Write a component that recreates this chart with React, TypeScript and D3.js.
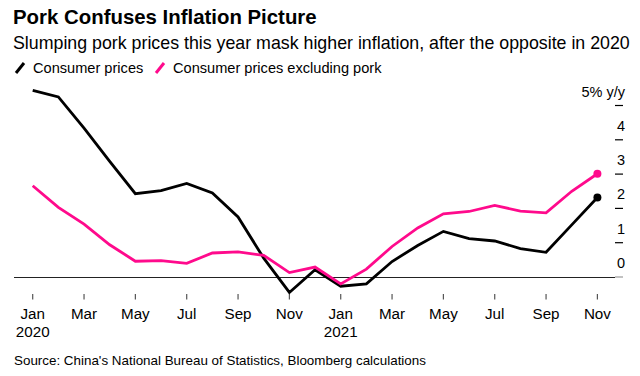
import React from "react";
import * as d3 from "d3";

const months = [
  "2020-01","2020-02","2020-03","2020-04","2020-05","2020-06","2020-07","2020-08","2020-09","2020-10","2020-11","2020-12",
  "2021-01","2021-02","2021-03","2021-04","2021-05","2021-06","2021-07","2021-08","2021-09","2021-10","2021-11",
];
const consumerPrices = [5.44, 5.25, 4.34, 3.37, 2.43, 2.52, 2.73, 2.45, 1.75, 0.55, -0.45, 0.21, -0.27, -0.2, 0.45, 0.92, 1.33, 1.12, 1.05, 0.83, 0.72, 1.52, 2.32];
const exPork = [2.66, 2.03, 1.54, 0.94, 0.46, 0.48, 0.4, 0.7, 0.73, 0.63, 0.13, 0.29, -0.2, 0.23, 0.89, 1.43, 1.84, 1.91, 2.09, 1.92, 1.87, 2.5, 3.01];
const yTicks = [0, 1, 2, 3, 4, 5];
const xTickMonths = ["2020-01","2020-03","2020-05","2020-07","2020-09","2020-11","2021-01","2021-03","2021-05","2021-07","2021-09","2021-11"];
const monthNames = ["Jan","Feb","Mar","Apr","May","Jun","Jul","Aug","Sep","Oct","Nov","Dec"];

const title = "Pork Confuses Inflation Picture";
const subtitle = "Slumping pork prices this year mask higher inflation, after the opposite in 2020";
const legendLabels = ["Consumer prices", "Consumer prices excluding pork"];
const source = "Source: China's National Bureau of Statistics, Bloomberg calculations";

const BLACK = "#000000";
const PINK = "#ff0a8c";
const FONT = "'Liberation Sans', Arial, Helvetica, sans-serif";

export default function App() {
  const x = d3.scalePoint<string>().domain(months).range([32.7, 597.4]);
  const y = d3.scaleLinear().domain([0, 5]).range([277, 105.5]);
  const line = d3
    .line<number>()
    .x((_, i) => x(months[i]) as number)
    .y((d) => y(d));

  const series = [
    { values: consumerPrices, color: BLACK },
    { values: exPork, color: PINK },
  ];

  const last = months.length - 1;

  return (
    <svg
      width={640}
      height={376}
      style={{ position: "absolute", left: 0, top: 0, background: "#fff" }}
      fontFamily={FONT}
    >
      <rect x={0} y={0} width={640} height={376} fill="#fff" />
      <text x={13} y={24} fontSize={20.4} fontWeight="bold" fill="#000">
        {title}
      </text>
      <text x={13} y={49} fontSize={17.8} fill="#000">
        {subtitle}
      </text>
      {/* legend */}
      <line x1={16} y1={73} x2={24} y2={63} stroke={BLACK} strokeWidth={3} />
      <text x={33} y={72.7} fontSize={14.6} fill="#000">
        {legendLabels[0]}
      </text>
      <line x1={156} y1={73} x2={164} y2={63} stroke={PINK} strokeWidth={3} />
      <text x={173} y={72.7} fontSize={14.6} fill="#000">
        {legendLabels[1]}
      </text>

      {/* right axis */}
      {yTicks.map((t) => (
        <g key={t}>
          <line
            x1={615}
            x2={623}
            y1={y(t)}
            y2={y(t)}
            stroke={t === 0 ? "#999" : "#000"}
            strokeWidth={1.2}
          />
          <text x={625} y={y(t) - 9} fontSize={14.5} textAnchor="end" fill="#000">
            {t === 5 ? "5% y/y" : String(t)}
          </text>
        </g>
      ))}

      {/* zero line */}
      <line x1={14} x2={615} y1={y(0) + 0.5} y2={y(0) + 0.5} stroke="#222" strokeWidth={1} />

      {/* x axis */}
      {xTickMonths.map((m) => {
        const xv = x(m) as number;
        const [yr, mo] = m.split("-");
        const mi = parseInt(mo, 10) - 1;
        return (
          <g key={m}>
            <line x1={xv} x2={xv} y1={294} y2={299.5} stroke="#555" strokeWidth={1.2} />
            <text x={xv} y={319} fontSize={15.2} textAnchor="middle" fill="#000">
              {monthNames[mi]}
            </text>
            {mi === 0 && (
              <text x={xv} y={337} fontSize={15.2} textAnchor="middle" fill="#000">
                {yr}
              </text>
            )}
          </g>
        );
      })}

      {/* lines */}
      {series.map((s, i) => (
        <g key={i}>
          <path
            d={line(s.values) || ""}
            fill="none"
            stroke={s.color}
            strokeWidth={2.8}
            strokeLinejoin="miter"
          />
          <circle cx={x(months[last]) as number} cy={y(s.values[last])} r={4} fill={s.color} />
        </g>
      ))}

      <text x={14} y={364.5} fontSize={13.4} fill="#000">
        {source}
      </text>
    </svg>
  );
}
